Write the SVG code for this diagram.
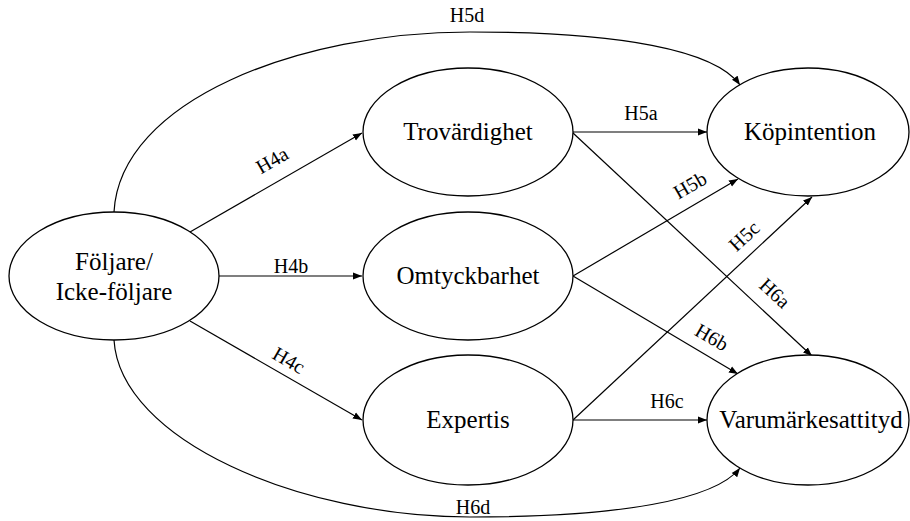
<svg xmlns="http://www.w3.org/2000/svg" width="910" height="521" viewBox="0 0 910 521">
<style>
.node{fill:#fff;stroke:#000;stroke-width:1.3}
.nt{font-family:"Liberation Serif","Times New Roman",serif;font-size:25px;text-anchor:middle;fill:#000}
.el{font-family:"Liberation Serif","Times New Roman",serif;font-size:20px;text-anchor:middle;dominant-baseline:central;fill:#000}
.c{fill:none;stroke:#000;stroke-width:1.2;marker-end:url(#ah)}
</style>
<defs>
<marker id="ah" markerUnits="userSpaceOnUse" markerWidth="10" markerHeight="8" refX="9" refY="4" orient="auto">
<path d="M0,0.5 L9,4 L0,7.5 z" fill="#000"/>
</marker>
</defs>
<rect width="910" height="521" fill="#fff"/>
<g id="connectors">
<path class="c" d="M114,212 C120,100 300,32 470,32 C620,32 715,50 740,85"/>
<path class="c" d="M114,340 C120,440 300,517 470,517 C620,517 715,500 740,468"/>
<path class="c" d="M190,232 L362,133"/>
<path class="c" d="M219,276 L362,276"/>
<path class="c" d="M190,321 L362,420"/>
<path class="c" d="M573,132 L707,132"/>
<path class="c" d="M573,133 L812,356"/>
<path class="c" d="M573,276 L738,179"/>
<path class="c" d="M573,276 L738,374"/>
<path class="c" d="M573,420 L812,197"/>
<path class="c" d="M573,420 L707,420"/>
</g>
<g id="edge-labels">
<text class="el" x="467" y="15">H5d</text>
<text class="el" x="641" y="113">H5a</text>
<text class="el" x="291" y="266">H4b</text>
<text class="el" x="667" y="401">H6c</text>
<text class="el" x="473" y="507">H6d</text>
<text class="el" transform="translate(272,160) rotate(-30)">H4a</text>
<text class="el" transform="translate(289,360) rotate(30)">H4c</text>
<text class="el" transform="translate(690,185) rotate(-30)">H5b</text>
<text class="el" transform="translate(744,236) rotate(-43)">H5c</text>
<text class="el" transform="translate(775,293) rotate(43)">H6a</text>
<text class="el" transform="translate(712,337) rotate(30)">H6b</text>
</g>
<g id="n-foljare">
<ellipse class="node" cx="114" cy="276" rx="105" ry="64"/>
<text class="nt" x="114" y="270">Följare/</text>
<text class="nt" x="114" y="300">Icke-följare</text>
</g>
<g id="n-trovardighet">
<ellipse class="node" cx="468" cy="132" rx="105" ry="64"/>
<text class="nt" x="468" y="140">Trovärdighet</text>
</g>
<g id="n-omtyckbarhet">
<ellipse class="node" cx="468" cy="276" rx="105" ry="64"/>
<text class="nt" x="468" y="284">Omtyckbarhet</text>
</g>
<g id="n-expertis">
<ellipse class="node" cx="468" cy="420" rx="105" ry="65"/>
<text class="nt" x="468" y="428">Expertis</text>
</g>
<g id="n-kopintention">
<ellipse class="node" cx="808" cy="132" rx="101" ry="64"/>
<text class="nt" x="810" y="140">Köpintention</text>
</g>
<g id="n-varumarkesattityd">
<ellipse class="node" cx="808" cy="420" rx="101" ry="65"/>
<text class="nt" x="811" y="428">Varumärkesattityd</text>
</g>
</svg>
